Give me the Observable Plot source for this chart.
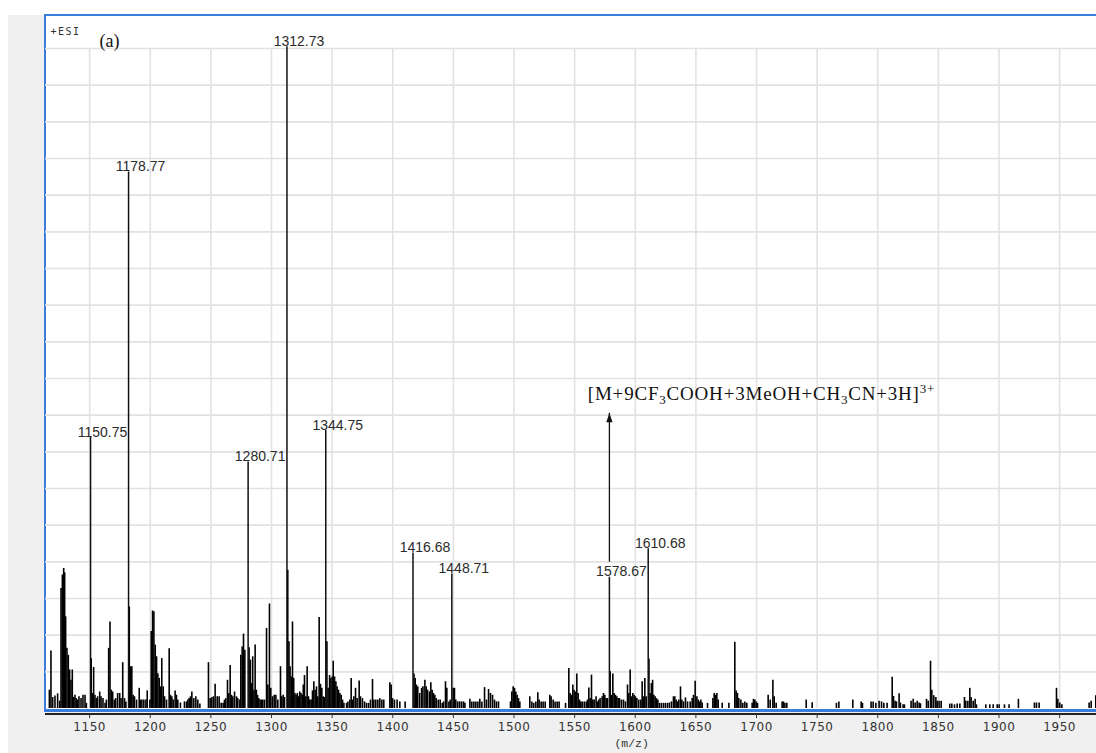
<!DOCTYPE html>
<html>
<head>
<meta charset="utf-8">
<script src="https://cdn.jsdelivr.net/npm/d3@7"></script>
<script src="https://cdn.jsdelivr.net/npm/@observablehq/plot@0.6"></script>
<style>
  html, body { margin: 0; padding: 0; background: #ffffff; }
  #wrap { position: relative; width: 1096px; height: 753px; overflow: hidden; }
  #panel { position: absolute; left: 8px; top: 15px; right: 0; bottom: 0; background: #f0f0f0; }
  #plotbg { position: absolute; left: 44px; top: 14px; width: 1052px; height: 693px;
            background: #ffffff; border-top: 2px solid #3b7ddd; border-left: 2px solid #3b7ddd;
            border-bottom: 3px solid #3b7ddd; }
  #axisline { position: absolute; left: 45px; top: 713px; width: 1051px; height: 1.5px; background: #222; }
  #chart { position: absolute; left: 0; top: 0; }
</style>
</head>
<body>
<div id="wrap">
  <div id="panel"></div>
  <div id="plotbg"></div>
  <div id="axisline"></div>
  <div id="chart"></div>
</div>
<script>
// ---------- data (m/z, relative intensity in grid units) ----------
const xTicks = [1150, 1200, 1250, 1300, 1350, 1400, 1450, 1500, 1550, 1600, 1650, 1700, 1750, 1800, 1850, 1900, 1950];
const yGridLevels = [1, 2, 3, 4, 5, 6, 7, 8, 9, 10, 11, 12, 13, 14, 15, 16, 17, 18];

const peakLabels = ["1150.75", "1178.77", "1280.71", "1312.73", "1344.75", "1416.68", "1448.71", "1578.67", "1610.68"];
const peakMz     = [1150.75, 1182.1, 1280.71, 1312.73, 1344.75, 1416.68, 1448.71, 1578.67, 1610.68];
const peakInt    = [7.39, 14.63, 6.72, 18.05, 7.58, 4.24, 3.67, 3.58, 4.36];

const noiseMz = [
  1116.8,1118.1,1119.5,1121.4,1123.6,1125.3,1126.4,1127.5,1128.6,1129.4,1130.2,1131.3,1132.4,1133.5,1134.6,1135.7,1136.8,1137.9,1139.0,1140.1,1141.2,1142.9,1144.5,1146.2,1147.3,
  1151.3,1152.3,1153.3,1154.4,1155.5,1156.6,1158.3,1159.4,1161.0,1162.7,1163.8,1165.7,1166.8,1167.9,1169.0,1170.4,1171.5,1173.1,1174.8,1175.9,1177.3,1178.8,1179.9,
  1182.7,1183.7,1184.8,1185.9,1187.0,1188.7,1190.9,1192.0,1193.1,1194.7,1196.4,1197.5,1199.7,1200.8,1201.9,1203.0,1204.1,1205.2,1206.3,1207.4,1208.5,1209.5,1210.7,1211.8,1213.4,
  1215.6,1216.7,1217.8,1218.9,1220.5,1221.6,1222.7,1224.9,1228.2,1229.9,1231.0,1232.1,1233.2,1234.3,1235.9,1237.6,1239.2,1240.9,
  1248.0,1249.4,1250.8,1252.2,1253.5,1255.2,1256.8,1258.5,1260.1,1261.2,1262.3,1263.7,1264.8,1265.9,1267.0,1268.1,1269.5,1271.1,1272.2,1273.9,1274.7,1275.8,1276.9,1278.0,
  1281.5,1282.6,1283.6,1284.5,1285.5,1286.5,1287.5,1288.5,1289.5,1290.6,1291.7,1292.8,1294.2,1295.9,1297.0,1298.3,1299.4,1300.8,1302.2,1303.6,1305.2,1307.4,1308.5,1309.6,1310.7,
  1313.4,1314.4,1315.3,1316.3,1317.3,1318.3,1319.3,1320.3,1321.3,1322.3,1323.3,1324.3,1325.3,1326.2,1327.2,1328.3,1329.4,1330.5,1331.6,1332.7,1333.8,1334.9,1336.0,1337.1,1338.2,1339.3,1340.4,1341.5,1342.6,1343.6,
  1345.7,1346.7,1347.9,1349.0,1350.0,1350.9,1352.0,1353.1,1354.2,1355.3,1356.4,1357.5,1358.6,1359.7,1361.9,1363.0,1364.6,1365.7,1366.8,1367.9,1369.3,1370.6,1372.3,1373.4,1375.0,1376.7,1378.3,1380.0,1381.6,1383.3,1384.4,1386.0,1387.7,1389.3,1391.0,1392.6,
  1397.6,1398.7,1399.8,1401.4,1403.6,1405.8,1410.2,
  1417.5,1418.5,1419.5,1420.6,1422.2,1423.8,1424.9,1426.5,1427.6,1428.7,1430.3,1431.4,1432.5,1433.6,1434.7,1435.8,1437.5,1439.1,1440.8,1441.9,1443.5,1444.6,1446.3,1447.4,
  1449.8,1450.9,1452.0,1453.6,1455.2,1456.8,1458.4,1459.5,1463.6,1465.2,1466.9,1468.5,1470.2,1471.8,1473.5,1475.7,1477.3,1479.0,1480.6,1482.3,1483.9,1485.5,1487.2,
  1497.1,1498.2,1499.3,1500.4,1501.5,1502.6,1503.7,1504.8,1513.0,1514.7,1516.3,1518.0,1519.6,1520.7,1522.4,1524.0,1525.7,1529.5,1530.6,1532.3,1533.9,1535.6,1537.2,
  1542.5,1545.2,1546.3,1547.4,1548.5,1549.6,1550.7,1551.8,1552.9,1554.0,1555.1,1556.2,1557.9,1559.5,1560.6,1561.7,1562.8,1563.9,1565.0,1566.1,1567.7,1568.8,1569.9,1571.0,1572.7,1573.8,1574.9,1576.0,1577.1,
  1579.3,1580.4,1581.5,1582.6,1583.7,1584.8,1585.9,1587.0,1588.6,1590.3,1591.9,1593.6,1594.7,1595.8,1596.9,1598.0,1599.1,1600.2,1601.3,1602.9,1604.6,1605.7,1606.8,1607.9,1609.0,
  1611.3,1612.3,1613.3,1614.3,1615.3,1616.4,1617.5,1618.6,1620.0,1621.6,1623.3,1624.9,1626.6,1628.2,1629.9,1631.5,1632.6,1633.7,1634.8,1635.9,1637.3,1638.4,1639.8,1641.4,1643.1,1645.3,1646.9,1648.0,1649.4,1650.8,1651.9,1653.0,1654.1,1655.2,1659.6,
  1664.0,1665.1,1666.2,1667.3,1668.4,1671.7,1677.2,1682.1,1683.2,1684.3,1685.4,1687.1,1688.7,1690.4,1692.0,1696.4,1697.5,1698.6,1699.7,1700.8,
  1709.6,1711.3,1713.5,1714.6,1716.2,1721.1,1722.2,1723.4,1725.0,1741.0,1745.9,
  1765.9,1767.9,1779.4,1786.3,1787.4,1794.5,1796.2,1798.4,1801.1,1803.1,1805.0,1807.7,1811.9,1813.0,1814.3,1815.4,1817.6,1818.7,1820.9,1822.0,
  1827.5,1829.2,1830.8,1832.5,1834.1,1835.2,1840.2,1841.6,1843.5,1844.6,1846.2,1847.9,1849.0,1850.6,1852.3,1859.4,1861.1,1863.3,1865.5,1867.7,
  1871.5,1872.6,1874.3,1875.9,1877.0,1878.7,1880.3,1881.4,1889.1,1892.4,1895.2,1898.5,1900.1,1904.5,1908.3,1916.0,1929.2,1930.9,1933.1,
  1947.4,1948.5,1950.1,1951.8,1974.3,1976.0,1979.8
];
const noiseInt = [
  0.5,1.57,0.3,0.34,0.4,0.2,3.27,3.64,3.82,3.7,2.5,1.64,1.45,1.05,0.77,1.05,0.3,0.36,0.27,0.23,0.32,0.27,0.36,0.36,0.14,
  1.36,0.41,1.12,0.36,0.27,0.32,0.45,0.32,0.27,0.14,0.23,1.64,2.36,0.5,0.45,0.23,0.27,0.41,0.41,0.27,1.25,0.27,0.18,
  2.77,1.14,1.14,0.36,0.32,0.23,0.55,0.23,0.23,0.23,0.23,0.48,0.23,2.1,2.66,2.64,1.73,1.41,0.95,0.82,0.59,1.36,0.59,0.32,0.23,
  1.63,0.36,0.32,0.23,0.48,0.36,0.23,0.15,0.18,0.18,0.23,0.27,0.32,0.45,0.27,0.32,0.23,0.12,
  1.25,0.27,0.3,0.32,0.66,0.32,0.32,0.14,0.14,0.23,0.27,0.77,0.41,1.17,0.36,0.32,0.45,0.32,0.27,0.23,1.45,1.68,2.03,1.59,
  1.66,1.32,0.68,1.41,0.5,1.73,0.5,0.36,0.27,0.23,0.23,0.23,0.23,2.18,0.64,2.85,0.55,0.32,0.36,0.36,0.23,1.14,0.32,0.36,0.3,
  3.77,1.82,1.14,0.86,2.36,0.82,0.41,0.36,0.41,0.32,0.45,0.41,0.36,0.64,0.9,0.32,1.14,0.32,0.23,0.23,0.48,0.73,0.5,0.59,0.32,2.48,0.66,0.55,0.32,0.3,
  1.82,0.55,0.9,0.82,0.86,1.29,0.86,0.73,0.59,0.5,0.41,0.36,0.23,0.14,0.14,0.18,0.23,0.82,0.23,0.32,0.55,0.27,0.75,0.32,0.27,0.18,0.14,0.14,0.23,0.79,0.23,0.23,0.23,0.27,0.23,0.23,
  0.7,0.64,0.27,0.23,0.23,0.18,0.18,
  0.94,0.82,0.64,0.59,0.41,0.55,0.59,0.77,0.59,0.5,0.45,0.7,0.5,0.41,0.36,0.27,0.23,0.23,0.14,0.18,0.73,0.55,0.18,0.23,
  0.55,0.55,0.23,0.18,0.18,0.18,0.18,0.14,0.25,0.18,0.18,0.18,0.18,0.25,0.18,0.57,0.23,0.52,0.41,0.36,0.23,0.18,0.18,
  0.18,0.45,0.59,0.55,0.45,0.36,0.27,0.18,0.32,0.18,0.14,0.18,0.43,0.23,0.18,0.18,0.18,0.36,0.32,0.23,0.18,0.18,0.18,
  0.14,1.09,0.41,0.36,0.64,0.5,0.45,0.94,0.41,0.23,0.18,0.18,0.18,0.18,0.23,0.56,0.27,0.91,0.23,0.23,0.32,0.18,0.23,0.27,0.32,0.41,0.36,0.27,0.27,
  1.0,0.36,0.94,0.41,0.36,0.32,0.27,0.27,0.23,0.23,0.18,0.64,0.41,1.05,0.32,0.41,0.36,0.32,0.27,0.23,0.23,0.73,0.32,0.82,0.32,
  1.34,0.41,0.68,0.77,0.36,0.32,0.27,0.23,0.14,0.14,0.14,0.14,0.14,0.15,0.18,0.32,0.32,0.23,0.18,0.23,0.59,0.23,0.18,0.29,0.18,0.18,0.27,0.36,0.74,0.32,0.23,0.18,0.23,0.15,0.14,
  0.27,0.41,0.36,0.41,0.23,0.14,0.14,1.81,0.48,0.41,0.27,0.23,0.14,0.18,0.14,0.14,0.25,0.23,0.18,0.14,
  0.36,0.23,0.77,0.32,0.14,0.18,0.18,0.14,0.14,0.23,0.16,
  0.14,0.18,0.23,0.18,0.14,0.18,0.18,0.14,0.2,0.18,0.14,0.14,0.85,0.33,0.2,0.18,0.4,0.15,0.1,0.1,
  0.2,0.25,0.15,0.2,0.15,0.13,0.25,0.2,1.29,0.5,0.35,0.3,0.2,0.2,0.2,0.12,0.12,0.1,0.12,0.12,
  0.3,0.2,0.2,0.55,0.3,0.2,0.25,0.1,0.1,0.1,0.1,0.1,0.1,0.1,0.1,0.25,0.15,0.15,0.15,
  0.55,0.25,0.15,0.1,0.15,0.2,0.35
];

// annotation: arrow from just above the 1578.67 label up to the ion assignment
const arrowMz = 1578.67;
const arrowFrom = 3.99;
const arrowTip = 8.05;
const annotationParts = [
  ["[M+9CF", ""], ["3", "sub"], ["COOH+3MeOH+CH", ""], ["3", "sub"], ["CN+3H]", ""], ["3+", "sup"]
];
const annotationPlain = annotationParts.map(p => p[0]).join("");
const xAxisTitle = "(m/z)";
const xAxisTitleAt = 1597;
const headerMode = "+ESI";
const panelTag = "(a)";

// ---------- build ----------
const noise = noiseMz.map((m, i) => ({mz: m, h: noiseInt[i]}));
const peaks = peakMz.map((m, i) => ({mz: m, h: peakInt[i], label: peakLabels[i]}));

const arrowHead = {
  draw(ctx, size) {
    ctx.moveTo(0, 0);
    ctx.lineTo(3.2, 9);
    ctx.lineTo(-3.2, 9);
    ctx.closePath();
  }
};

const chart = Plot.plot({
  width: 1096,
  height: 753,
  marginTop: 15,
  marginLeft: 45,
  marginRight: 0,
  marginBottom: 45,
  style: {background: "transparent", overflow: "visible", fontFamily: "'Liberation Sans', Arial, sans-serif"},
  x: {domain: [1113.6, 1980.4], axis: null, label: null},
  y: {domain: [0, 18.9], axis: null, label: null},
  marks: [
    Plot.ruleX(xTicks, {x: d => d, y1: 0, y2: 18, stroke: "#e2e2e2", strokeWidth: 1.6}),
    Plot.ruleY(yGridLevels, {y: d => d, stroke: "#e2e2e2", strokeWidth: 1.6}),
    Plot.ruleX(noise, {x: "mz", y1: 0, y2: "h", stroke: "#000", strokeWidth: 1.6}),
    Plot.ruleX(peaks, {x: "mz", y1: 0, y2: "h", stroke: "#111", strokeWidth: 1.5}),
    Plot.text(peaks, {x: "mz", y: "h", text: "label", dx: 12, dy: -1, lineAnchor: "bottom",
      fontSize: 14, fontFamily: "'Liberation Sans', Arial, sans-serif", fill: "#2a2a2a"}),
    Plot.ruleX([arrowMz], {x: d => d, y1: arrowFrom, y2: arrowTip, stroke: "#111", strokeWidth: 1.3}),
    Plot.dot([arrowMz], {x: d => d, y: arrowTip, symbol: arrowHead, r: 3, fill: "#111", stroke: "none"}),
    Plot.text([annotationPlain], {x: arrowMz, y: arrowTip, text: d => d, textAnchor: "start", lineAnchor: "bottom",
      dx: -21.6, dy: -13, fontSize: 19, fontFamily: "'Liberation Serif', 'Times New Roman', serif", fill: "#111"}),
    Plot.axisX(xTicks, {tickSize: 4, tickPadding: 4, dy: 6, label: null, color: "#333", tickFormat: d => String(d),
      fontSize: 12, fontFamily: "'DejaVu Sans', Verdana, sans-serif"}),
    Plot.text([xAxisTitle], {x: xAxisTitleAt, text: d => d, frameAnchor: "bottom", dy: 38,
      fontSize: 11.5, fontFamily: "'Liberation Mono', 'DejaVu Sans Mono', monospace", fill: "#333"}),
    Plot.text([headerMode], {frameAnchor: "top-left", text: d => d, textAnchor: "start", dx: 5, dy: 12,
      fontSize: 10, fontFamily: "'DejaVu Sans Mono', monospace", fill: "#333"}),
    Plot.text([panelTag], {frameAnchor: "top-left", text: d => d, textAnchor: "start", dx: 54, dy: 19,
      fontSize: 18, fontFamily: "'Liberation Serif', 'Times New Roman', serif", fill: "#111"})
  ]
});

document.getElementById("chart").appendChild(chart);

// tick label letter spacing
chart.querySelectorAll('g[aria-label="x-axis tick label"] text').forEach(t => t.setAttribute("letter-spacing", "0.5"));
// +ESI letter spacing
[...chart.querySelectorAll("text")].filter(t => t.textContent === headerMode).forEach(t => t.setAttribute("letter-spacing", "1.5"));

// rich annotation text with sub/superscripts
const annEl = [...chart.querySelectorAll("text")].find(t => t.textContent === annotationPlain);
if (annEl) {
  annEl.textContent = "";
  annEl.setAttribute("letter-spacing", "0.8");
  const NS = "http://www.w3.org/2000/svg";
  let shift = 0;
  for (const [s, kind] of annotationParts) {
    const ts = document.createElementNS(NS, "tspan");
    ts.textContent = s;
    const target = kind === "sub" ? 4 : kind === "sup" ? -7 : 0;
    if (target !== shift) { ts.setAttribute("dy", String(target - shift)); shift = target; }
    if (kind) ts.setAttribute("font-size", "13");
    annEl.appendChild(ts);
  }
}
</script>
</body>
</html>
